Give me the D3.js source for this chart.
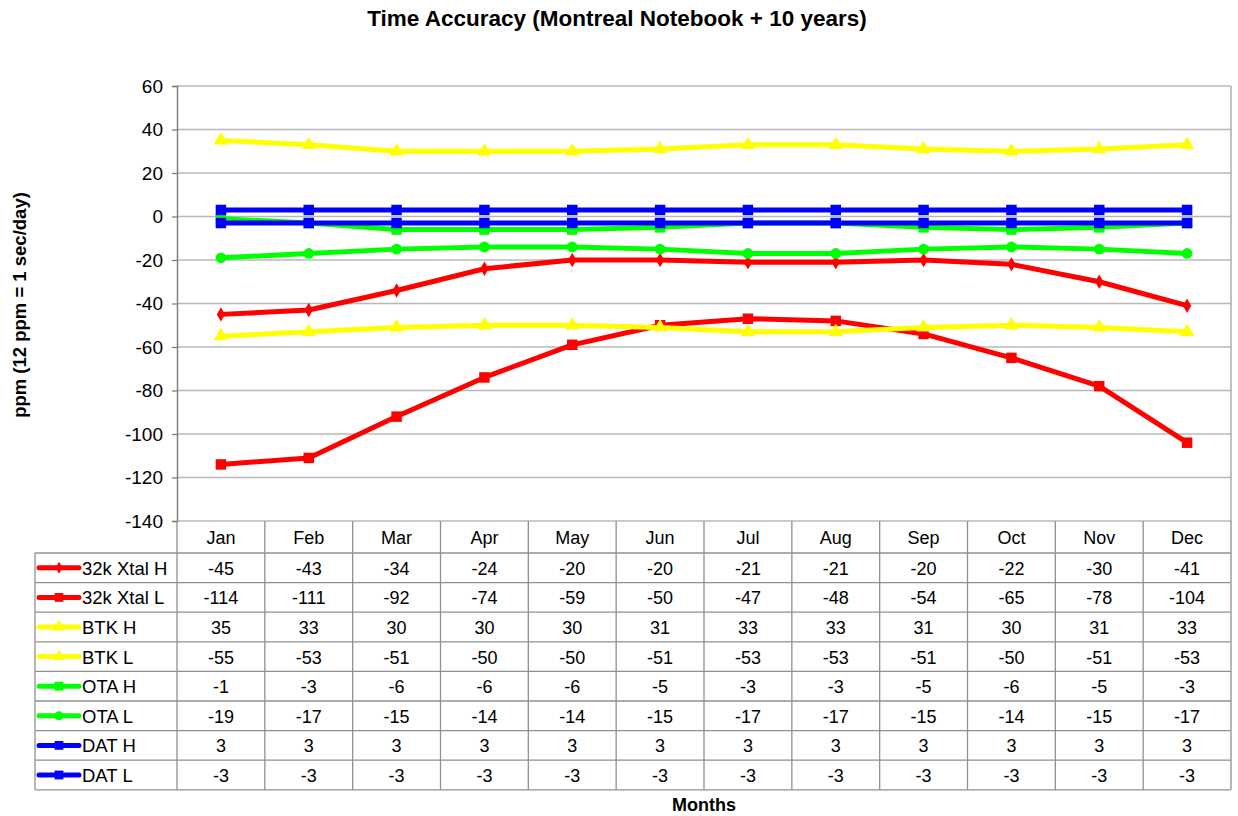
<!DOCTYPE html>
<html><head><meta charset="utf-8">
<script src="https://cdn.jsdelivr.net/npm/d3@7"></script>
<style>body{margin:0;background:#fff;} text{font-family:"Liberation Sans",Arial,sans-serif;}</style>
</head><body>
<svg id="c" width="1238" height="816"></svg>
<script>
const months = ["Jan","Feb","Mar","Apr","May","Jun","Jul","Aug","Sep","Oct","Nov","Dec"];
const xtalH = [-45,-43,-34,-24,-20,-20,-21,-21,-20,-22,-30,-41];
const xtalL = [-114,-111,-92,-74,-59,-50,-47,-48,-54,-65,-78,-104];
const btkH = [35,33,30,30,30,31,33,33,31,30,31,33];
const btkL = [-55,-53,-51,-50,-50,-51,-53,-53,-51,-50,-51,-53];
const otaH = [-1,-3,-6,-6,-6,-5,-3,-3,-5,-6,-5,-3];
const otaL = [-19,-17,-15,-14,-14,-15,-17,-17,-15,-14,-15,-17];
const datH = [3,3,3,3,3,3,3,3,3,3,3,3];
const datL = [-3,-3,-3,-3,-3,-3,-3,-3,-3,-3,-3,-3];
const yTicks = [60,40,20,0,-20,-40,-60,-80,-100,-120,-140];

const series = [
  {name:"32k Xtal H", values:xtalH, color:"#ff0000", marker:"diamond"},
  {name:"32k Xtal L", values:xtalL, color:"#ff0000", marker:"square"},
  {name:"BTK H", values:btkH, color:"#ffff00", marker:"triangle"},
  {name:"BTK L", values:btkL, color:"#ffff00", marker:"triangle"},
  {name:"OTA H", values:otaH, color:"#00ff00", marker:"square"},
  {name:"OTA L", values:otaL, color:"#00ff00", marker:"circle"},
  {name:"DAT H", values:datH, color:"#0000ff", marker:"square"},
  {name:"DAT L", values:datL, color:"#0000ff", marker:"square"}
];

const svg = d3.select("#c");
const L = 177, R = 1231, T = 86, B = 521;
const x = d3.scaleBand().domain(months).range([L, R]);
const y = d3.scaleLinear().domain([-140, 60]).range([B, T]);

svg.append("text").attr("x", 617).attr("y", 26).attr("text-anchor","middle")
  .attr("font-size", 22.5).attr("font-weight","bold").text("Time Accuracy (Montreal Notebook + 10 years)");
svg.append("text").attr("transform","translate(26,305) rotate(-90)").attr("text-anchor","middle")
  .attr("font-size", 18.5).attr("font-weight","bold").text("ppm (12 ppm = 1 sec/day)");
svg.append("text").attr("x", 704).attr("y", 811).attr("text-anchor","middle")
  .attr("font-size", 18).attr("font-weight","bold").text("Months");

svg.append("g").selectAll("line").data(yTicks).join("line")
  .attr("x1", L).attr("x2", R).attr("y1", d=>y(d)).attr("y2", d=>y(d))
  .attr("stroke","#b8b8b8").attr("stroke-width",1.3);
svg.append("line").attr("x1",R).attr("x2",R).attr("y1",T).attr("y2",B).attr("stroke","#a0a0a0").attr("stroke-width",1.3);

const yAxis = d3.axisLeft(y).tickValues(yTicks).tickFormat(d => String(d)).tickSize(5).tickPadding(9);
const gy = svg.append("g").attr("transform",`translate(${L},0)`).call(yAxis);
gy.select(".domain").attr("stroke","#808080").attr("stroke-width",1.5);
gy.selectAll(".tick line").attr("stroke","#808080").attr("stroke-width",1.3);
gy.selectAll(".tick text").attr("font-size",19).attr("fill","#000").attr("font-family","Liberation Sans, Arial, sans-serif");

const rowH = 29.6;
const headerBottom = 553;
const tableLeft = 35;
const tableBottom = headerBottom + rowH*series.length;
const tbl = svg.append("g");
const lineColor = "#909090";
const bounds = months.map(m => x(m)).concat([R]);
tbl.selectAll("line.v").data(bounds).join("line").attr("class","v")
  .attr("x1", d=>d).attr("x2", d=>d).attr("y1", B).attr("y2", tableBottom)
  .attr("stroke", lineColor).attr("stroke-width",1.3);
tbl.append("line").attr("x1",tableLeft).attr("x2",tableLeft).attr("y1",headerBottom).attr("y2",tableBottom)
  .attr("stroke",lineColor).attr("stroke-width",1.3);
const hLines = d3.range(series.length+1).map(i => headerBottom + i*rowH);
tbl.selectAll("line.h").data(hLines).join("line").attr("class","h")
  .attr("x1", tableLeft).attr("x2", R).attr("y1", d=>d).attr("y2", d=>d)
  .attr("stroke", lineColor).attr("stroke-width",1.3);
tbl.selectAll("text.m").data(months).join("text").attr("class","m")
  .attr("x", d=>x(d)+x.bandwidth()/2).attr("y", 544).attr("text-anchor","middle")
  .attr("font-size",18).text(d=>d);

function markerPath(type, size){
  const map = {diamond:d3.symbolDiamond, square:d3.symbolSquare, triangle:d3.symbolTriangle, circle:d3.symbolCircle};
  return d3.symbol().type(map[type]).size(size)();
}
const markerSize = {diamond:60, square:110, triangle:90, circle:90};

series.forEach((s, i) => {
  const cy = headerBottom + i*rowH + rowH/2;
  tbl.append("line").attr("x1",39).attr("x2",79).attr("y1",cy).attr("y2",cy)
    .attr("stroke",s.color).attr("stroke-width",5).attr("stroke-linecap","round");
  tbl.append("path").attr("d", markerPath(s.marker, markerSize[s.marker]*0.7))
    .attr("transform",`translate(59,${cy})`).attr("fill",s.color);
  tbl.append("text").attr("x",82).attr("y",cy+7).attr("font-size",18.5).text(s.name);
  tbl.selectAll(null).data(s.values).join("text")
    .attr("x",(d,j)=>x(months[j])+x.bandwidth()/2).attr("y",cy+7).attr("text-anchor","middle")
    .attr("font-size",18).text(d=>d);
});

const line = d3.line().x((d,j)=>x(months[j])+x.bandwidth()/2).y(d=>y(d));
series.forEach(s => {
  const g = svg.append("g");
  g.append("path").datum(s.values).attr("d", line).attr("fill","none")
    .attr("stroke", s.color).attr("stroke-width",5).attr("stroke-linejoin","round");
  g.selectAll("path.mk").data(s.values).join("path").attr("class","mk")
    .attr("d", markerPath(s.marker, markerSize[s.marker]))
    .attr("transform",(d,j)=>`translate(${x(months[j])+x.bandwidth()/2},${y(d)})`)
    .attr("fill", s.color);
});
</script>
</body></html>
